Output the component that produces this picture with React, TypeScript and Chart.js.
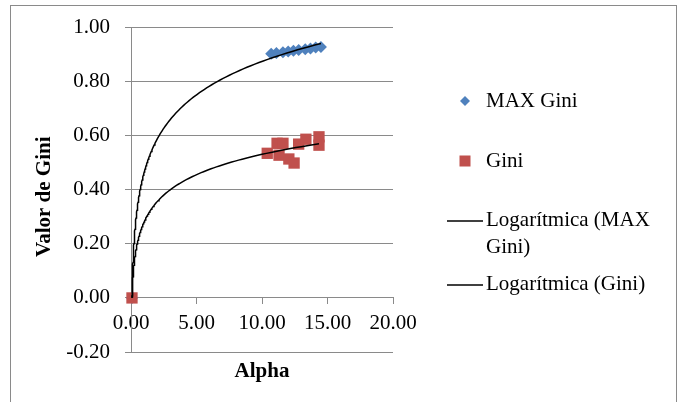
import React, { useEffect, useRef } from "react";
import { Chart, registerables } from "chart.js";

Chart.register(...registerables);

// ---- data ----
const maxGiniAlpha = [0.075, 10.7, 11.1, 11.6, 12.0, 12.4, 12.8, 13.3, 13.7, 14.1, 14.5];
const maxGiniValues = [0.0, 0.903, 0.906, 0.909, 0.912, 0.914, 0.917, 0.920, 0.923, 0.926, 0.928];

const giniAlpha = [0.075, 10.4, 11.15, 11.6, 11.3, 12.05, 12.45, 12.8, 13.35, 14.35, 14.35];
const giniValues = [0.0, 0.535, 0.572, 0.572, 0.528, 0.514, 0.499, 0.569, 0.587, 0.596, 0.565];

const xTickStep = 5;
const yTickStep = 0.2;
const xRange = [0, 20];
const yRange = [-0.2, 1.0];

const seriesNames = ["MAX Gini", "Gini", "Logarítmica (MAX Gini)", "Logarítmica (Gini)"];
const legendLines = [["MAX Gini"], ["Gini"], ["Logarítmica (MAX", "Gini)"], ["Logarítmica (Gini)"]];
const axisTitles = { x: "Alpha", y: "Valor de Gini" };

const BLUE = "#4F81BD";
const RED = "#C0504D";
const GRID = "#8a8a8a";
const FONT = "'Liberation Serif', 'Times New Roman', serif";

// least-squares logarithmic trendline (y = a ln x + b), like Excel's
function logFit(xs: number[], ys: number[]) {
  const lx = xs.map((x) => Math.log(x));
  const n = xs.length;
  const mx = lx.reduce((s, v) => s + v, 0) / n;
  const my = ys.reduce((s, v) => s + v, 0) / n;
  let sxy = 0;
  let sxx = 0;
  for (let i = 0; i < n; i++) {
    sxy += (lx[i] - mx) * (ys[i] - my);
    sxx += (lx[i] - mx) * (lx[i] - mx);
  }
  const a = sxy / sxx;
  return { a, b: my - a * mx };
}

function trendCurve(xs: number[], ys: number[]) {
  const { a, b } = logFit(xs, ys);
  const lo = Math.log(Math.min(...xs));
  const hi = Math.log(Math.max(...xs));
  const steps = 160;
  const pts: { x: number; y: number }[] = [];
  for (let i = 0; i <= steps; i++) {
    const x = Math.exp(lo + ((hi - lo) * i) / steps);
    pts.push({ x, y: a * Math.log(x) + b });
  }
  return pts;
}

const toPoints = (xs: number[], ys: number[]) => xs.map((x, i) => ({ x, y: ys[i] }));
const fmt = (v: any) => {
  const n = Number(v);
  return (Math.abs(n) < 1e-9 ? 0 : n).toFixed(2);
};

const framePlugin = {
  id: "frame",
  beforeDraw(chart: any) {
    const ctx = chart.ctx;
    ctx.save();
    ctx.fillStyle = "#fff";
    ctx.fillRect(0, 0, chart.width, chart.height);
    ctx.strokeStyle = GRID;
    ctx.lineWidth = 1;
    ctx.strokeRect(10.5, 5.5, 666, 420);
    ctx.restore();
  },
  afterDraw(chart: any) {
    const ctx = chart.ctx;
    const area = chart.chartArea;
    ctx.save();
    ctx.fillStyle = "#000";
    ctx.font = `bold 21px ${FONT}`;
    ctx.textAlign = "center";
    ctx.textBaseline = "middle";
    // x axis title
    ctx.fillText(axisTitles.x, (area.left + area.right) / 2, area.bottom + 20);
    // y axis title
    ctx.save();
    ctx.translate(45, (area.top + area.bottom) / 2 + 7);
    ctx.rotate(-Math.PI / 2);
    ctx.fillText(axisTitles.y, 0, 0);
    ctx.restore();

    // legend
    ctx.font = `21px ${FONT}`;
    ctx.textAlign = "left";
    const textX = 486;
    const markX = 465;
    const rows = [101, 161, 220, 284];
    ctx.fillStyle = BLUE;
    ctx.beginPath();
    ctx.moveTo(markX, rows[0] - 5);
    ctx.lineTo(markX + 5, rows[0]);
    ctx.lineTo(markX, rows[0] + 5);
    ctx.lineTo(markX - 5, rows[0]);
    ctx.closePath();
    ctx.fill();
    ctx.fillStyle = RED;
    ctx.fillRect(markX - 5.5, rows[1] - 5.5, 11, 11);
    ctx.strokeStyle = "#000";
    ctx.lineWidth = 1.5;
    [rows[2], rows[3]].forEach((y) => {
      ctx.beginPath();
      ctx.moveTo(447, y + 1);
      ctx.lineTo(483, y + 1);
      ctx.stroke();
    });
    ctx.fillStyle = "#000";
    legendLines.forEach((lines, i) => {
      lines.forEach((t, j) => ctx.fillText(t, textX, rows[i] + j * 27));
    });
    ctx.restore();
  },
};

export default function App() {
  const ref = useRef<HTMLCanvasElement | null>(null);

  useEffect(() => {
    document.body.style.margin = "0";
    if (!ref.current) return;
    Chart.defaults.font.family = FONT;
    const chart = new Chart(ref.current, {
      type: "scatter",
      data: {
        datasets: [
          {
            label: seriesNames[2],
            data: trendCurve(maxGiniAlpha, maxGiniValues),
            showLine: true,
            borderColor: "#000",
            borderWidth: 1.5,
            pointRadius: 0,
            fill: false,
            tension: 0,
            clip: false,
          },
          {
            label: seriesNames[3],
            data: trendCurve(giniAlpha, giniValues),
            showLine: true,
            borderColor: "#000",
            borderWidth: 1.5,
            pointRadius: 0,
            fill: false,
            tension: 0,
            clip: false,
          },
          {
            label: seriesNames[1],
            data: toPoints(giniAlpha, giniValues),
            pointStyle: "rect",
            pointRadius: 8,
            backgroundColor: RED,
            borderWidth: 0,
            clip: false,
          },
          {
            label: seriesNames[0],
            data: toPoints(maxGiniAlpha, maxGiniValues),
            pointStyle: "rectRot",
            pointRadius: 6,
            backgroundColor: BLUE,
            borderWidth: 0,
            clip: false,
          },
        ],
      },
      options: {
        animation: false,
        responsive: false,
        layout: { padding: { left: 0, right: 287, top: 25, bottom: 50 } },
        plugins: { legend: { display: false }, tooltip: { enabled: false } },
        scales: {
          x: {
            type: "linear",
            position: { y: 0 } as any,
            min: xRange[0],
            max: xRange[1],
            ticks: {
              stepSize: xTickStep,
              callback: fmt,
              font: { size: 21 },
              color: "#000",
              padding: 7,
              maxRotation: 0,
              autoSkip: false,
            },
            grid: { drawOnChartArea: false, drawTicks: true, tickLength: 6, color: GRID },
            border: { display: true, color: GRID, width: 1 },
          },
          y: {
            min: yRange[0],
            max: yRange[1],
            ticks: {
              stepSize: yTickStep,
              callback: fmt,
              font: { size: 21 },
              color: "#000",
              padding: 15,
            },
            grid: { color: GRID, tickLength: 6, drawTicks: true },
            border: { display: true, color: GRID, width: 1 },
            afterFit: (scale: any) => {
              scale.width = 131;
            },
          },
        },
      },
      plugins: [framePlugin],
    } as any);
    return () => chart.destroy();
  }, []);

  return <canvas ref={ref} width={680} height={402} style={{ display: "block" }} />;
}
